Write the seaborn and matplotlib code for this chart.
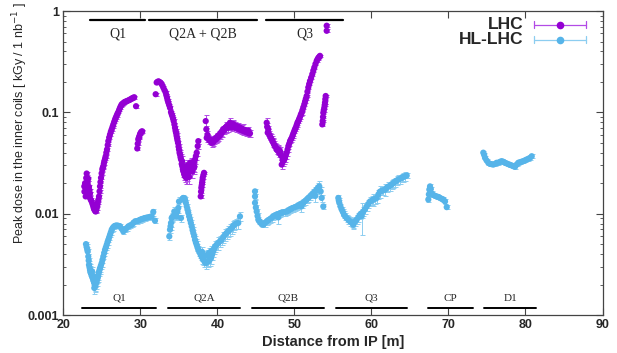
import numpy as np
import pandas as pd
import matplotlib
matplotlib.use("Agg")
import matplotlib.pyplot as plt
import seaborn as sns
from matplotlib.ticker import LogLocator, NullFormatter
from matplotlib.lines import Line2D
import matplotlib.transforms as mtransforms

# ---------------- data (x [m], peak dose [kGy / 1 nb^-1], relative error [%]) ----------------
LHC_Q1 = [
    (22.70, 0.0186, 4), (22.72, 0.0165, 4), (22.80, 0.0200, 4), (22.88, 0.0148, 4), (22.95, 0.0225, 4),
    (23.01, 0.0249, 4), (23.01, 0.0180, 4), (23.08, 0.0160, 4), (23.14, 0.0201, 4), (23.22, 0.0221, 4),
    (23.31, 0.0184, 4), (23.38, 0.0170, 4), (23.44, 0.0158, 4), (23.44, 0.0143, 4), (23.55, 0.0137, 4),
    (23.66, 0.0132, 4), (23.76, 0.0125, 4), (23.87, 0.0118, 4), (23.94, 0.0113, 4), (24.00, 0.0110, 4),
    (24.09, 0.0107, 4), (24.18, 0.0105, 4), (24.25, 0.0109, 4), (24.31, 0.0114, 4), (24.38, 0.0121, 4),
    (24.44, 0.0128, 3), (24.52, 0.0137, 3), (24.61, 0.0148, 3), (24.68, 0.0166, 3), (24.74, 0.0186, 3),
    (24.80, 0.0205, 3), (24.87, 0.0226, 3), (24.95, 0.0250, 3), (25.04, 0.0273, 3), (25.10, 0.0284, 3),
    (25.17, 0.0294, 3), (25.24, 0.0312, 3), (25.30, 0.0330, 3), (25.40, 0.0350, 3), (25.48, 0.0369, 3),
    (25.56, 0.0400, 3), (25.65, 0.0430, 3), (25.74, 0.0475, 3), (25.82, 0.0520, 3), (25.93, 0.0565, 3),
    (26.04, 0.0605, 3), (26.15, 0.0645, 3), (26.26, 0.0680, 3), (26.37, 0.0720, 3), (26.47, 0.0760, 3),
    (26.58, 0.0805, 3), (26.69, 0.0850, 3), (26.80, 0.0890, 3), (26.91, 0.0930, 3), (27.01, 0.0970, 3),
    (27.12, 0.1007, 3), (27.23, 0.1060, 3), (27.34, 0.1110, 3), (27.45, 0.1155, 3), (27.56, 0.1200, 3),
    (27.73, 0.1230, 3), (27.90, 0.1260, 3), (28.05, 0.1275, 3), (28.21, 0.1290, 3), (28.36, 0.1305, 3),
    (28.51, 0.1320, 3), (28.68, 0.1345, 3), (28.86, 0.1370, 3), (29.02, 0.1390, 3), (29.19, 0.1410, 3),
    (29.42, 0.1150, 3), (29.58, 0.0440, 3), (29.64, 0.0490, 3), (29.71, 0.0540, 3), (29.78, 0.0560, 3),
    (29.84, 0.0580, 3), (29.94, 0.0610, 3), (30.03, 0.0630, 3), (30.13, 0.0645, 3), (30.23, 0.0650, 3),
]
LHC_Q2 = [
    (31.97, 0.151, 3), (32.10, 0.197, 3), (32.20, 0.199, 3), (32.30, 0.202, 3), (32.40, 0.201, 3),
    (32.53, 0.198, 3), (32.66, 0.194, 3), (32.81, 0.186, 3), (32.96, 0.176, 3), (33.11, 0.166, 3),
    (33.27, 0.157, 3), (33.35, 0.148, 3), (33.44, 0.140, 3), (33.52, 0.132, 3), (33.61, 0.125, 3),
    (33.72, 0.118, 3), (33.83, 0.111, 3), (33.96, 0.1007, 3), (34.05, 0.096, 3), (34.13, 0.092, 3),
    (34.22, 0.087, 4), (34.31, 0.082, 4), (34.40, 0.076, 4), (34.48, 0.0705, 4), (34.55, 0.066, 4),
    (34.61, 0.063, 4), (34.68, 0.059, 5), (34.74, 0.056, 5), (34.80, 0.053, 5), (34.87, 0.050, 5),
    (34.94, 0.046, 6), (35.00, 0.043, 6), (35.07, 0.040, 6), (35.13, 0.0384, 6), (35.20, 0.036, 8),
    (35.26, 0.0343, 8), (35.35, 0.031, 10), (35.43, 0.0294, 10), (35.50, 0.0275, 10), (35.56, 0.0262, 12),
    (35.67, 0.0245, 12), (35.78, 0.0234, 12), (35.89, 0.0228, 14), (36.00, 0.0226, 14), (36.10, 0.0240, 12),
    (36.21, 0.0253, 12), (36.32, 0.0265, 12), (36.43, 0.0273, 12), (36.54, 0.0285, 12), (36.65, 0.0294, 12),
    (36.76, 0.0300, 12), (36.86, 0.0305, 10), (36.97, 0.0325, 10), (37.08, 0.0343, 10), (37.19, 0.0370, 8),
    (37.30, 0.0400, 8), (37.43, 0.0464, 6), (37.51, 0.0520, 6),
    (35.40, 0.0330, 12), (35.70, 0.0290, 12), (35.90, 0.0270, 14), (36.10, 0.0300, 14), (36.30, 0.0230, 14),
    (36.50, 0.0320, 12), (36.70, 0.0260, 14), (36.90, 0.0280, 12), (37.00, 0.0290, 12),
    (37.82, 0.0148, 3), (37.86, 0.0165, 3), (37.90, 0.0180, 3), (37.95, 0.0190, 3), (37.99, 0.0201, 3),
    (38.04, 0.0213, 3), (38.08, 0.0226, 3), (38.16, 0.0240, 3), (38.25, 0.0253, 3),
    (38.47, 0.082, 14), (38.55, 0.068, 8), (38.60, 0.056, 8), (38.70, 0.060, 8), (38.80, 0.055, 8),
    (38.92, 0.053, 8), (39.03, 0.054, 8), (39.15, 0.052, 8), (39.25, 0.050, 8), (39.35, 0.052, 8),
    (39.45, 0.0508, 8), (39.56, 0.053, 8), (39.68, 0.055, 8), (39.80, 0.054, 8), (39.90, 0.056, 8),
    (40.00, 0.058, 8), (40.10, 0.057, 8), (40.21, 0.060, 8), (40.32, 0.059, 8), (40.43, 0.063, 8),
    (40.54, 0.062, 8), (40.65, 0.066, 8), (40.75, 0.068, 8), (40.86, 0.066, 8), (40.97, 0.070, 8),
    (41.08, 0.071, 12), (41.19, 0.073, 8), (41.30, 0.070, 8), (41.40, 0.075, 8), (41.51, 0.072, 8),
    (41.62, 0.079, 12), (41.73, 0.074, 8), (41.84, 0.071, 8), (41.95, 0.077, 8), (42.05, 0.076, 8),
    (42.16, 0.072, 8), (42.27, 0.074, 8), (42.38, 0.070, 8), (42.49, 0.073, 8), (42.60, 0.069, 8),
    (42.70, 0.072, 8), (42.81, 0.068, 8), (42.92, 0.0705, 8), (43.03, 0.067, 8), (43.14, 0.069, 8),
    (43.25, 0.066, 8), (43.35, 0.068, 12), (43.46, 0.065, 8), (43.57, 0.067, 8), (43.68, 0.064, 8),
    (43.79, 0.065, 8), (43.90, 0.063, 8), (44.00, 0.066, 8), (44.11, 0.062, 8), (44.22, 0.062, 8),
]
LHC_Q3 = [
    (46.39, 0.079, 12), (46.45, 0.072, 8), (46.52, 0.063, 8), (46.60, 0.068, 8), (46.70, 0.061, 8),
    (46.82, 0.058, 8), (46.93, 0.056, 8), (47.04, 0.054, 8), (47.15, 0.052, 8), (47.25, 0.050, 8),
    (47.36, 0.048, 8), (47.47, 0.0464, 8), (47.58, 0.045, 8), (47.69, 0.043, 10), (47.80, 0.042, 10),
    (47.90, 0.043, 10), (48.01, 0.040, 10), (48.12, 0.0414, 10), (48.23, 0.038, 10), (48.34, 0.0369, 10),
    (48.34, 0.0305, 10), (48.45, 0.034, 10), (48.55, 0.033, 10), (48.66, 0.034, 10), (48.77, 0.0356, 10),
    (48.88, 0.038, 8), (48.99, 0.040, 8), (49.10, 0.043, 6), (49.20, 0.0464, 6), (49.31, 0.049, 6),
    (49.42, 0.052, 5), (49.53, 0.054, 5), (49.64, 0.056, 5), (49.75, 0.059, 5), (49.85, 0.062, 5),
    (49.96, 0.065, 4), (50.06, 0.068, 4), (50.17, 0.071, 4), (50.28, 0.075, 4), (50.38, 0.079, 4),
    (50.49, 0.082, 4), (50.60, 0.086, 4), (50.71, 0.090, 4), (50.82, 0.095, 4), (50.93, 0.099, 4),
    (51.03, 0.105, 3), (51.14, 0.112, 3), (51.27, 0.120, 3), (51.37, 0.128, 3), (51.47, 0.136, 3),
    (51.58, 0.145, 3), (51.68, 0.160, 3), (51.79, 0.176, 3), (51.90, 0.190, 3), (52.01, 0.204, 3),
    (52.16, 0.220, 3), (52.31, 0.238, 3), (52.44, 0.258, 3), (52.57, 0.277, 3), (52.72, 0.300, 3),
    (52.88, 0.322, 3), (53.00, 0.335, 3), (53.10, 0.345, 3), (53.20, 0.352, 3), (53.31, 0.361, 3),
    (53.61, 0.076, 3), (53.66, 0.082, 3), (53.70, 0.090, 3), (53.74, 0.099, 3), (53.80, 0.105, 3),
    (53.87, 0.111, 3), (53.92, 0.118, 3), (53.96, 0.125, 3), (54.00, 0.135, 3), (54.05, 0.145, 3),
    (54.18, 0.638, 3), (54.18, 0.716, 3),
]
HL_Q1 = [
    (22.92, 0.00501, 6), (23.00, 0.00470, 6), (23.08, 0.00445, 6), (23.14, 0.00424, 6), (23.22, 0.00378, 6),
    (23.27, 0.00345, 6), (23.31, 0.00313, 8), (23.38, 0.00295, 8), (23.44, 0.00279, 8), (23.50, 0.00265, 8),
    (23.55, 0.00262, 8), (23.60, 0.00255, 8), (23.66, 0.00249, 10), (23.72, 0.00240, 10), (23.78, 0.00232, 10),
    (23.87, 0.00222, 10), (23.95, 0.00212, 10), (24.02, 0.00205, 12), (24.09, 0.00198, 12), (24.15, 0.00192, 12),
    (24.20, 0.00205, 12), (24.31, 0.00214, 10), (24.40, 0.00228, 10), (24.46, 0.00236, 10), (24.52, 0.00249, 10),
    (24.60, 0.00265, 8), (24.68, 0.00278, 8), (24.74, 0.00290, 8), (24.85, 0.00307, 8), (24.96, 0.00325, 8),
    (23.70, 0.00270, 10), (23.90, 0.00240, 10), (24.00, 0.00185, 12), (24.10, 0.00215, 12), (24.20, 0.00225, 10),
    (25.06, 0.00350, 6), (25.17, 0.00378, 6), (25.28, 0.00410, 6), (25.39, 0.00440, 6), (25.50, 0.00465, 6),
    (25.61, 0.00493, 6), (25.72, 0.00525, 6), (25.82, 0.00553, 6), (25.93, 0.00585, 6), (26.04, 0.00620, 6),
    (26.15, 0.00655, 6), (26.26, 0.00695, 6), (26.40, 0.00725, 6), (26.56, 0.00749, 6), (26.73, 0.00760, 6),
    (26.91, 0.00766, 6), (27.12, 0.00760, 6), (27.34, 0.00749, 6), (27.55, 0.00710, 6), (27.77, 0.00668, 6),
    (27.99, 0.00695, 6), (28.20, 0.00720, 6), (28.42, 0.00749, 6), (28.64, 0.00765, 6), (28.86, 0.00778, 6),
    (29.07, 0.00810, 6), (29.29, 0.00840, 6), (29.50, 0.00845, 6), (29.71, 0.00853, 6), (29.93, 0.00870, 6),
    (30.16, 0.00885, 6), (30.37, 0.00895, 6), (30.58, 0.00906, 6), (30.80, 0.00915, 6), (31.01, 0.00920, 6),
    (31.23, 0.00930, 6), (31.45, 0.00940, 6), (31.66, 0.01040, 8), (31.88, 0.00853, 6),
]
HL_Q2A = [
    (33.74, 0.00597, 8), (33.83, 0.00695, 8), (33.90, 0.00750, 8), (33.96, 0.00810, 8), (34.05, 0.00906, 8),
    (34.15, 0.00930, 8), (34.26, 0.00940, 8), (34.39, 0.01050, 10), (34.50, 0.00980, 8), (34.60, 0.00960, 8),
    (34.70, 0.00940, 8), (34.80, 0.01050, 8), (34.91, 0.01140, 10), (35.00, 0.01320, 10), (35.26, 0.00906, 8),
    (35.45, 0.01400, 6), (35.56, 0.01430, 6), (35.67, 0.01420, 6), (35.78, 0.01380, 6), (35.89, 0.01280, 6),
    (36.00, 0.01180, 6), (36.10, 0.01100, 6), (36.21, 0.01020, 6), (36.32, 0.00940, 6), (36.43, 0.00873, 6),
    (36.54, 0.00810, 6), (36.65, 0.00749, 6), (36.76, 0.00690, 6), (36.86, 0.00644, 6), (36.97, 0.00600, 6),
    (37.08, 0.00553, 8), (37.19, 0.00520, 8), (37.30, 0.00493, 8), (37.40, 0.00465, 8), (37.51, 0.00440, 8),
    (37.62, 0.00425, 10), (37.73, 0.00408, 10), (37.84, 0.00392, 10), (37.95, 0.00378, 10), (38.05, 0.00365, 12),
    (38.16, 0.00351, 12), (38.30, 0.00340, 12), (38.47, 0.00325, 12), (38.64, 0.00335, 12), (38.81, 0.00337, 12),
    (38.98, 0.00350, 12), (39.16, 0.00364, 12), (39.30, 0.00395, 12), (39.45, 0.00424, 12), (39.56, 0.00450, 12),
    (38.00, 0.00420, 12), (38.30, 0.00380, 12), (38.60, 0.00390, 12), (38.90, 0.00410, 12), (39.20, 0.00430, 12),
    (39.68, 0.00475, 12), (39.89, 0.00495, 12), (40.10, 0.00513, 14), (40.32, 0.00535, 12), (40.55, 0.00553, 12),
    (40.76, 0.00590, 12), (40.97, 0.00620, 14), (41.18, 0.00645, 12), (41.40, 0.00668, 12), (41.62, 0.00695, 14),
    (41.84, 0.00721, 12), (42.01, 0.00750, 12), (42.18, 0.00778, 12), (42.45, 0.00800, 12), (42.70, 0.00810, 12),
    (42.92, 0.00940, 10),
]
HL_Q2B = [
    (44.87, 0.0166, 6), (44.87, 0.0148, 6), (44.87, 0.0128, 6), (44.98, 0.0115, 6), (45.09, 0.0105, 6),
    (45.20, 0.0095, 6), (45.30, 0.00873, 6), (45.45, 0.00840, 6), (45.61, 0.00810, 6), (45.78, 0.00790, 6),
    (45.95, 0.00778, 6), (46.17, 0.00810, 8), (46.39, 0.00840, 8), (46.60, 0.00860, 8), (46.82, 0.00885, 8),
    (47.03, 0.00910, 8), (47.25, 0.00940, 8), (47.47, 0.00960, 8), (47.69, 0.00977, 8), (47.90, 0.00990, 8),
    (48.12, 0.01010, 8), (48.34, 0.01020, 8), (48.55, 0.01030, 8), (48.77, 0.01040, 8), (48.99, 0.01050, 8),
    (49.20, 0.01070, 8), (49.42, 0.01100, 8), (49.63, 0.01120, 8), (49.84, 0.01140, 8), (50.06, 0.01160, 8),
    (50.29, 0.01180, 8), (50.50, 0.01200, 8), (50.71, 0.01230, 8), (50.92, 0.01250, 8), (51.14, 0.01280, 8),
    (51.36, 0.01330, 8), (51.58, 0.01380, 8), (51.80, 0.01430, 8), (52.01, 0.01480, 8), (52.22, 0.01540, 8),
    (52.44, 0.01600, 10), (52.66, 0.01660, 10), (52.88, 0.01730, 10), (53.05, 0.01800, 12), (53.22, 0.01860, 12),
    (53.40, 0.01660, 10), (53.53, 0.01430, 8), (53.74, 0.01180, 6),
    (47.90, 0.00920, 14), (50.90, 0.01180, 12), (52.70, 0.01500, 14),
]
HL_Q3 = [
    (55.69, 0.0143, 6), (55.75, 0.0135, 6), (55.82, 0.0128, 6), (55.97, 0.0118, 6), (56.13, 0.0110, 6),
    (56.28, 0.0104, 8), (56.43, 0.00977, 8), (56.60, 0.00940, 8), (56.78, 0.00906, 8), (57.00, 0.00870, 10),
    (57.21, 0.00840, 10), (57.42, 0.00820, 10), (57.64, 0.00800, 10), (57.64, 0.00778, 10), (57.86, 0.00840, 10),
    (58.08, 0.00873, 10), (58.30, 0.00925, 10), (58.51, 0.00977, 10), (58.73, 0.00950, 35), (58.72, 0.01010, 10),
    (58.94, 0.01050, 10), (59.16, 0.01110, 10), (59.38, 0.01180, 10), (59.60, 0.01250, 10), (59.81, 0.01320, 10),
    (60.10, 0.01350, 10), (60.25, 0.01380, 14), (60.47, 0.01400, 10), (60.68, 0.01430, 10), (60.90, 0.01550, 10),
    (61.10, 0.01650, 14), (61.32, 0.01680, 10), (61.53, 0.01700, 10), (61.75, 0.01720, 14), (61.97, 0.01800, 10),
    (62.18, 0.01850, 10), (62.40, 0.01880, 10), (62.61, 0.01950, 10), (62.83, 0.02000, 10), (63.05, 0.02060, 10),
    (63.26, 0.02120, 10), (63.48, 0.02170, 10), (63.70, 0.02200, 10), (63.92, 0.02260, 10), (64.13, 0.02300, 10),
    (64.35, 0.02340, 10), (64.57, 0.02380, 6),
]
HL_CP = [
    (67.38, 0.0138, 5), (67.45, 0.0155, 5), (67.51, 0.0173, 5), (67.60, 0.0186, 5), (67.70, 0.0175, 5),
    (67.82, 0.0158, 5), (68.03, 0.0153, 5), (68.25, 0.0150, 5), (68.47, 0.0148, 5), (68.68, 0.0146, 5),
    (68.90, 0.0143, 5), (69.12, 0.0140, 5), (69.33, 0.0138, 5), (69.55, 0.0132, 5), (69.77, 0.0116, 5),
]
HL_D1 = [
    (74.52, 0.0400, 4), (74.63, 0.0380, 4), (74.74, 0.0356, 4), (74.95, 0.0335, 4), (75.17, 0.0318, 4),
    (75.40, 0.0310, 4), (75.60, 0.0308, 4), (75.82, 0.0305, 4), (76.05, 0.0310, 4), (76.25, 0.0318, 4),
    (76.47, 0.0318, 4), (76.69, 0.0325, 4), (76.91, 0.0330, 4), (77.13, 0.0325, 4), (77.35, 0.0318, 4),
    (77.56, 0.0313, 4), (77.78, 0.0308, 4), (78.00, 0.0303, 4), (78.21, 0.0299, 4), (78.43, 0.0294, 4),
    (78.64, 0.0290, 4), (78.85, 0.0305, 4), (79.06, 0.0318, 4), (79.28, 0.0322, 4), (79.50, 0.0326, 4),
    (79.71, 0.0330, 4), (79.93, 0.0336, 4), (80.14, 0.0342, 4), (80.36, 0.0348, 4), (80.58, 0.0355, 4),
    (80.81, 0.0369, 4),
]

SERIES = ["LHC", "HL-LHC"]
TOP_LABELS = ["Q1", "Q2A + Q2B", "Q3"]
TOP_SPANS = [(23.5, 30.6), (31.1, 45.1), (46.3, 56.3)]
BOTTOM_LABELS = ["Q1", "Q2A", "Q2B", "Q3", "CP", "D1"]
BOTTOM_SPANS = [(22.4, 32.0), (33.6, 42.9), (44.5, 53.8), (55.4, 64.6), (67.4, 73.2), (74.6, 81.4)]
X_TICKS = [20, 30, 40, 50, 60, 70, 80, 90]
Y_TICKS = [0.001, 0.01, 0.1, 1]
Y_TICK_LABELS = ["0.001", "0.01", "0.1", "1"]

# ---------------- build table ----------------
rows = []
for name, segs in [("LHC", [LHC_Q1, LHC_Q2, LHC_Q3]),
                   ("HL-LHC", [HL_Q1, HL_Q2A, HL_Q2B, HL_Q3, HL_CP, HL_D1])]:
    for seg in segs:
        for x, y, e in seg:
            rows.append((name, x, y, y * e / 100.0))
df = pd.DataFrame(rows, columns=["series", "x", "y", "err"])

palette = {"LHC": "#9400d3", "HL-LHC": "#56b4e9"}
err_palette = {"LHC": "#b24be6", "HL-LHC": "#8ccdf0"}

sns.set_style("ticks")
plt.rcParams["font.family"] = ["Liberation Sans", "DejaVu Sans"]

fig = plt.figure(figsize=(6.17, 3.53), dpi=100)
ax = fig.add_axes([0.1029, 0.1076, 0.8736, 0.8612])

for name in SERIES:
    d = df[df.series == name]
    ax.errorbar(d.x, d.y, yerr=d.err, fmt="none", ecolor=err_palette[name],
                elinewidth=0.7, capsize=1.8, capthick=0.7, zorder=2)
sns.scatterplot(data=df, x="x", y="y", hue="series", palette=palette, s=20,
                linewidth=0, ax=ax, legend=False, zorder=3)

ax.set_yscale("log")
ax.set_xlim(20, 90)
ax.set_ylim(0.001, 1)
ax.set_xticks(X_TICKS)
ax.set_xticklabels([str(t) for t in X_TICKS])
ax.set_yticks(Y_TICKS)
ax.set_yticklabels(Y_TICK_LABELS)
ax.yaxis.set_minor_locator(LogLocator(base=10, subs=np.arange(2, 10)))
ax.yaxis.set_minor_formatter(NullFormatter())
ax.tick_params(which="both", direction="in", top=True, right=True, color="#444444")
ax.tick_params(which="major", length=5, width=0.8, labelsize=9, pad=3)
ax.tick_params(which="minor", length=2.5, width=0.6)
for lab in ax.get_xticklabels() + ax.get_yticklabels():
    lab.set_fontweight("bold")
for sp in ax.spines.values():
    sp.set_color("#444444")
    sp.set_linewidth(0.9)

ax.set_xlabel("Distance from IP [m]", fontsize=10.5, fontweight="bold", labelpad=3)
ax.set_ylabel(r"Peak dose in the inner coils [ kGy / 1 nb$^{-1}$ ]", fontsize=9)
ax.yaxis.set_label_coords(-0.062, 0.632)

# magnet labels
trans = mtransforms.blended_transform_factory(ax.transData, ax.transAxes)
for lab, (a, b) in zip(TOP_LABELS, TOP_SPANS):
    ax.plot([a, b], [0.970, 0.970], color="black", lw=1.6, transform=trans, clip_on=False)
    ax.text((a + b) / 2, 0.925, lab, transform=trans, ha="center", va="center",
            fontsize=10, family=["Liberation Serif", "DejaVu Serif"])
for lab, (a, b) in zip(BOTTOM_LABELS, BOTTOM_SPANS):
    ax.plot([a, b], [0.022, 0.022], color="black", lw=1.4, transform=trans, clip_on=False)
    ax.text((a + b) / 2, 0.055, lab, transform=trans, ha="center", va="center",
            fontsize=8, family=["Liberation Serif", "DejaVu Serif"])

# legend (gnuplot style: text, then errorbar sample)
for i, name in enumerate(SERIES):
    yy = [0.955, 0.906][i]
    ax.text(0.853, yy, name, transform=ax.transAxes, ha="right", va="center",
            fontsize=12.5, fontweight="bold")
    ax.add_line(Line2D([0.873, 0.969], [yy, yy], transform=ax.transAxes,
                       color=err_palette[name], lw=0.9))
    for xc in (0.873, 0.969):
        ax.add_line(Line2D([xc, xc], [yy - 0.012, yy + 0.012], transform=ax.transAxes,
                           color=err_palette[name], lw=0.9))
    ax.add_line(Line2D([0.921], [yy], transform=ax.transAxes, marker="o", markersize=5.5,
                       color=palette[name], markeredgewidth=0))

fig.savefig("out.png", dpi=100)
